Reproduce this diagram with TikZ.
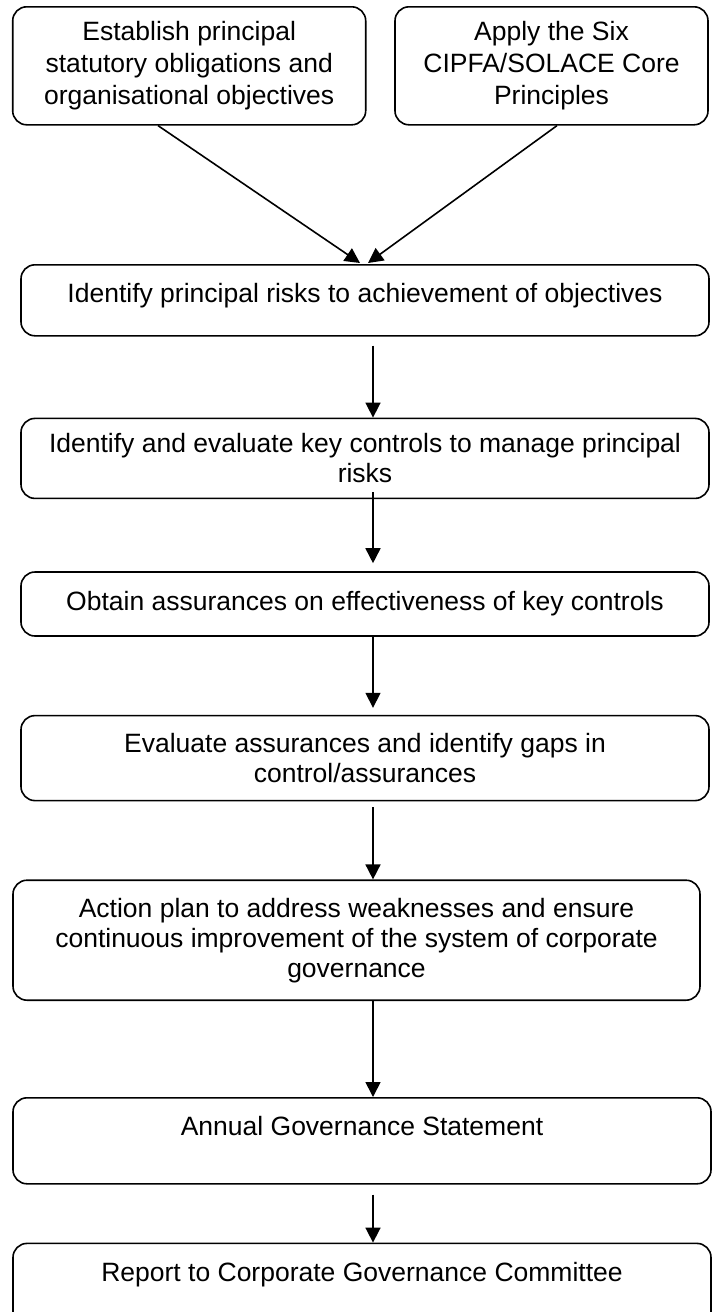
\documentclass[tikz,border=0pt]{standalone}
\usepackage{fontspec}
\setmainfont{Liberation Sans}
\usetikzlibrary{arrows.meta, positioning}

\begin{document}
\begin{tikzpicture}[
        x=1pt, y=1pt,
        node distance = 40pt and 10pt,
        punkt/.style = {rectangle, draw, line width=0.8pt, rounded corners=7pt, align=center, inner sep=0pt, anchor=north},
        pil/.style = {black, line width=0.8pt, -{Triangle[length=7.5pt, width=7.5pt]}},
        font=\fontsize{13.25}{15}\selectfont
        ]

        \useasboundingbox (0,0) rectangle (356,-656);
        \clip (0,0) rectangle (356,-656);

        \node[punkt, minimum width=176.5pt, minimum height=59pt, font=\fontsize{13.25}{16}\selectfont] (oblig) at (94.6,-3) {Establish principal\\statutory obligations and\\organisational objectives};
        \node[punkt, minimum width=156.5pt, minimum height=59pt, font=\fontsize{13.25}{16}\selectfont] (cipfa) at (275.75,-3) {Apply the Six\\CIPFA/SOLACE Core\\Principles};
        \node[punkt, minimum width=344pt, text height=19pt, text depth=16.5pt] (risks) at (182.5,-132) {Identify principal risks to achievement of objectives};
        \node[punkt, minimum width=344pt, minimum height=40pt] (controls) [below=40.5pt of risks] {Identify and evaluate key controls to manage principal\\risks};
        \node[punkt, minimum width=344pt, minimum height=32pt] (assure) [below=36pt of controls] {Obtain assurances on effectiveness of key controls};
        \node[punkt, minimum width=344pt, minimum height=42.5pt] (gaps) [below=39pt of assure] {Evaluate assurances and identify gaps in\\control/assurances};
        \node[punkt, minimum width=343.5pt, minimum height=60pt] (action) [below=39pt of gaps, xshift=-4.25pt] {Action plan to address weaknesses and ensure\\continuous improvement of the system of corporate\\governance};
        \node[punkt, minimum width=349pt, text height=19pt, text depth=24pt] (ags) [below=48pt of action, xshift=2.75pt] {Annual Governance Statement};
        \node[punkt, minimum width=349pt, text height=19pt, text depth=24pt] (report) [below=29pt of ags] {Report to Corporate Governance Committee};

        \coordinate (axis) at (186.5,0);

        \draw[pil] ([xshift=-15.6pt]oblig.south) -- ([xshift=-2.5pt,yshift=0.5pt]risks.north);
        \draw[pil] ([xshift=2.75pt]cipfa.south) -- ([xshift=1.5pt,yshift=0.5pt]risks.north);
        \draw[pil] ([yshift=-4.5pt]risks.south -| axis) -- (controls.north -| axis);
        \draw[pil] ([yshift=3.5pt]controls.south -| axis) -- ([yshift=4pt]assure.north -| axis);
        \draw[pil] (assure.south -| axis) -- ([yshift=3.5pt]gaps.north -| axis);
        \draw[pil] ([yshift=-3pt]gaps.south -| axis) -- (action.north -| axis);
        \draw[pil] (action.south -| axis) -- (ags.north -| axis);
        \draw[pil] ([yshift=-5pt]ags.south -| axis) -- (report.north -| axis);

      \end{tikzpicture}
\end{document}
